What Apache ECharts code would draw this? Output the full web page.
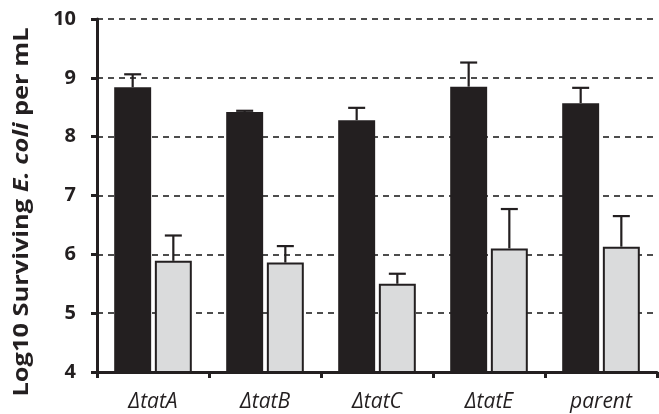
<!DOCTYPE html>
<html>
<head>
<meta charset="utf-8">
<script src="https://cdn.jsdelivr.net/npm/echarts@6/dist/echarts.min.js"></script>
<style>html,body{margin:0;padding:0;background:#fff}#c{width:659px;height:414px}</style>
</head>
<body>
<div id="c"></div>
<script>
const categories = ['ΔtatA', 'ΔtatB', 'ΔtatC', 'ΔtatE', 'parent'];
const blackValues = [8.84, 8.42, 8.28, 8.85, 8.57];
const blackErrTop = [9.06, 8.44, 8.49, 9.26, 8.83];
const greyValues = [5.89, 5.86, 5.50, 6.10, 6.13];
const greyErrTop = [6.32, 6.14, 5.67, 6.77, 6.65];
const yTicks = [4, 5, 6, 7, 8, 9, 10];
const yTitleParts = ['Log10 Surviving ', 'E. coli', ' per mL'];

const BAR_W = 0.33, BAR_GAP = 0.10;
const FONT = 'Open Sans';
const INK = '#231f20';

function errSeries(values, tops, side) {
  return {
    type: 'custom',
    z: 5,
    data: values.map((v, i) => [i, v, tops[i]]),
    renderItem: function (params, api) {
      const i = api.value(0);
      const band = api.size([1, 0])[0];
      const bw = band * BAR_W, gap = bw * BAR_GAP;
      const off = side * (bw + gap) / 2;
      const p0 = api.coord([i, api.value(1)]);
      const p1 = api.coord([i, api.value(2)]);
      const x = p0[0] + off;
      const half = 8.5;
      const st = { stroke: INK, lineWidth: 2.2 };
      return {
        type: 'group',
        children: [
          { type: 'line', shape: { x1: x, y1: p0[1], x2: x, y2: p1[1] }, style: st },
          { type: 'line', shape: { x1: x - half, y1: p1[1], x2: x + half, y2: p1[1] }, style: st }
        ]
      };
    }
  };
}

// measure the y title to stretch it along its length like the reference
const TITLE_SIZE = 21;
const ctx = document.createElement('canvas').getContext('2d');
ctx.font = 'bold ' + TITLE_SIZE + 'px "' + FONT + '"';
let tw = ctx.measureText(yTitleParts[0]).width + ctx.measureText(yTitleParts[2]).width;
ctx.font = 'italic bold ' + TITLE_SIZE + 'px "' + FONT + '"';
tw += ctx.measureText(yTitleParts[1]).width;
const titleScale = 369 / tw;

const chart = echarts.init(document.getElementById('c'));
chart.setOption({
  animation: false,
  backgroundColor: '#fff',
  grid: { left: 97, right: 2, top: 19, bottom: 42, containLabel: false },
  xAxis: {
    type: 'category',
    data: categories,
    axisLine: { lineStyle: { color: INK, width: 3 } },
    axisTick: { show: true, length: 6, lineStyle: { color: INK, width: 3 } },
    axisLabel: { fontFamily: FONT, fontStyle: 'italic', fontSize: 21, color: INK, margin: 20 },
    splitLine: { show: false }
  },
  yAxis: {
    type: 'value',
    min: 4, max: 10, interval: 1,
    axisLine: { show: true, lineStyle: { color: INK, width: 3 } },
    axisTick: { show: true, length: 6, lineStyle: { color: INK, width: 3 } },
    axisLabel: {
      fontFamily: FONT, fontWeight: 'bold', fontSize: 20, color: INK, margin: 21,
      formatter: v => yTicks.includes(v) ? String(v) : ''
    },
    splitLine: { show: true, lineStyle: { color: '#4d4d4d', width: 1.8, type: [6, 5] } }
  },
  graphic: [{
    type: 'text',
    x: 22, y: 212,
    rotation: Math.PI / 2,
    scaleX: titleScale,
    style: {
      text: '{b|' + yTitleParts[0] + '}{i|' + yTitleParts[1] + '}{b|' + yTitleParts[2] + '}',
      align: 'center', verticalAlign: 'middle',
      rich: {
        b: { fontFamily: FONT, fontWeight: 'bold', fontSize: TITLE_SIZE, fill: INK },
        i: { fontFamily: FONT, fontWeight: 'bold', fontStyle: 'italic', fontSize: TITLE_SIZE, fill: INK }
      }
    }
  }],
  series: [
    {
      type: 'bar', data: blackValues, barWidth: (BAR_W * 100) + '%', barGap: (BAR_GAP * 100) + '%',
      itemStyle: { color: INK }, z: 3
    },
    {
      type: 'bar', data: greyValues, barWidth: (BAR_W * 100) + '%', barGap: (BAR_GAP * 100) + '%',
      itemStyle: { color: '#dadbdc', borderColor: INK, borderWidth: 2 }, z: 3
    },
    errSeries(blackValues, blackErrTop, -1),
    errSeries(greyValues, greyErrTop, 1)
  ]
});
</script>
</body>
</html>
